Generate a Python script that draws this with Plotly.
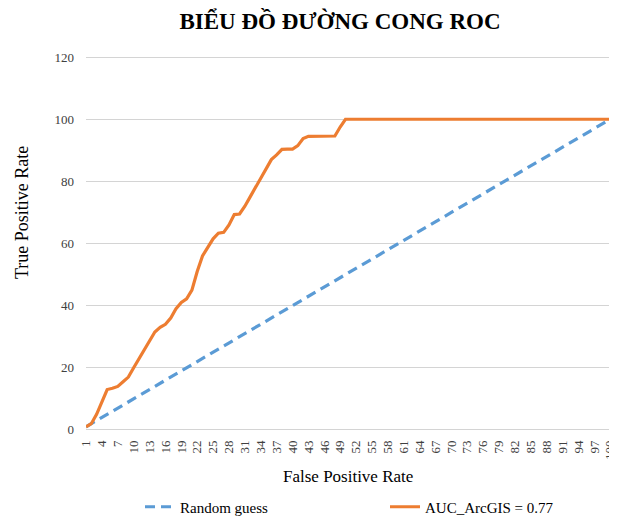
import plotly.graph_objects as go

categories = list(range(1, 101))

random_guess = [1, 2, 3, 4, 5, 6, 7, 8, 9, 10, 11, 12, 13, 14, 15, 16, 17, 18, 19, 20,
                21, 22, 23, 24, 25, 26, 27, 28, 29, 30, 31, 32, 33, 34, 35, 36, 37, 38, 39, 40,
                41, 42, 43, 44, 45, 46, 47, 48, 49, 50, 51, 52, 53, 54, 55, 56, 57, 58, 59, 60,
                61, 62, 63, 64, 65, 66, 67, 68, 69, 70, 71, 72, 73, 74, 75, 76, 77, 78, 79, 80,
                81, 82, 83, 84, 85, 86, 87, 88, 89, 90, 91, 92, 93, 94, 95, 96, 97, 98, 99, 100]

auc_arcgis = [1, 2, 5, 9, 13, 13.4, 14, 15.5, 17, 20,
              23, 25.5, 28.5, 31.5, 33, 34, 36, 39, 41, 42.2,
              45, 51, 56, 59, 61.5, 63.3, 63.6, 66, 69.3, 69.5,
              72, 75, 78, 80.5, 84, 87, 88.5, 90.3, 90.4, 90.4,
              91.5, 93.8, 94.5, 94.5, 94.5, 94.5, 94.5, 94.6, 97.5, 100,
              100, 100, 100, 100, 100, 100, 100, 100, 100, 100,
              100, 100, 100, 100, 100, 100, 100, 100, 100, 100,
              100, 100, 100, 100, 100, 100, 100, 100, 100, 100,
              100, 100, 100, 100, 100, 100, 100, 100, 100, 100,
              100, 100, 100, 100, 100, 100, 100, 100, 100, 100]

x_tick_labels = [str(v) for v in range(1, 101, 3)]
y_tick_values = [0, 20, 40, 60, 80, 100, 120]

SERIF = "Liberation Serif, Times New Roman, serif"

# the page body adds an 8 px offset; layout positions below are in figure pixels
W, H = 617, 518
L, R, T, B = 78, 10, 45.9, 92.9
PW = W - L - R
PH = H - T - B

fig = go.Figure()
fig.add_trace(go.Scatter(
    x=categories, y=random_guess, mode="lines", name="Random guess",
    line=dict(color="#5B9BD5", width=3.2, dash="10px,6px"),
))
fig.add_trace(go.Scatter(
    x=categories, y=auc_arcgis, mode="lines", name="AUC_ArcGIS = 0.77",
    line=dict(color="#ED7D31", width=3.2),
))

def px_x(fx):
    return (fx - L) / PW

def px_y(fy):
    return (H - B - fy) / PH

fig.update_layout(
    width=W, height=H,
    margin=dict(l=L, r=R, t=T, b=B, autoexpand=False),
    paper_bgcolor="white", plot_bgcolor="white",
    font=dict(family=SERIF, color="#000000"),
    title=dict(text="<b>BIỂU ĐỒ ĐƯỜNG CONG ROC</b>", x=332 / W, xanchor="center",
               y=1 - 13 / H, yanchor="middle", xref="container", yref="container",
               font=dict(size=23, family=SERIF, color="#000000")),
    xaxis=dict(
        range=[1, 100.9], tickmode="array", tickvals=list(range(1, 101, 3)),
        ticktext=x_tick_labels, tickangle=-90, showgrid=False, zeroline=False,
        showline=False, ticks="", ticklabelstandoff=4, automargin=False,
        tickfont=dict(size=13, family=SERIF, color="#404040"),
    ),
    yaxis=dict(
        range=[-1, 121], tickmode="array", tickvals=y_tick_values,
        showgrid=True, gridcolor="#D4D4D4", gridwidth=1, zeroline=False,
        showline=False, ticks="", ticklabelstandoff=11, automargin=False,
        tickfont=dict(size=13, family=SERIF, color="#404040"),
    ),
    legend=dict(orientation="h", xref="container", yref="container",
                x=132 / W, xanchor="left", y=1 - 499 / H, yanchor="middle",
                entrywidth=200, entrywidthmode="pixels",
                font=dict(size=15, family=SERIF, color="#000000")),
    showlegend=True,
    annotations=[
        dict(text="True Positive Rate", xref="paper", yref="paper",
             x=px_x(14), y=px_y(205), textangle=-90,
             xanchor="center", yanchor="middle", showarrow=False,
             font=dict(size=18, family=SERIF, color="#000000")),
        dict(text="False Positive Rate", xref="paper", yref="paper",
             x=px_x(340), y=px_y(469),
             xanchor="center", yanchor="middle", showarrow=False,
             font=dict(size=17, family=SERIF, color="#000000")),
    ],
)

fig.write_html("out.html")
